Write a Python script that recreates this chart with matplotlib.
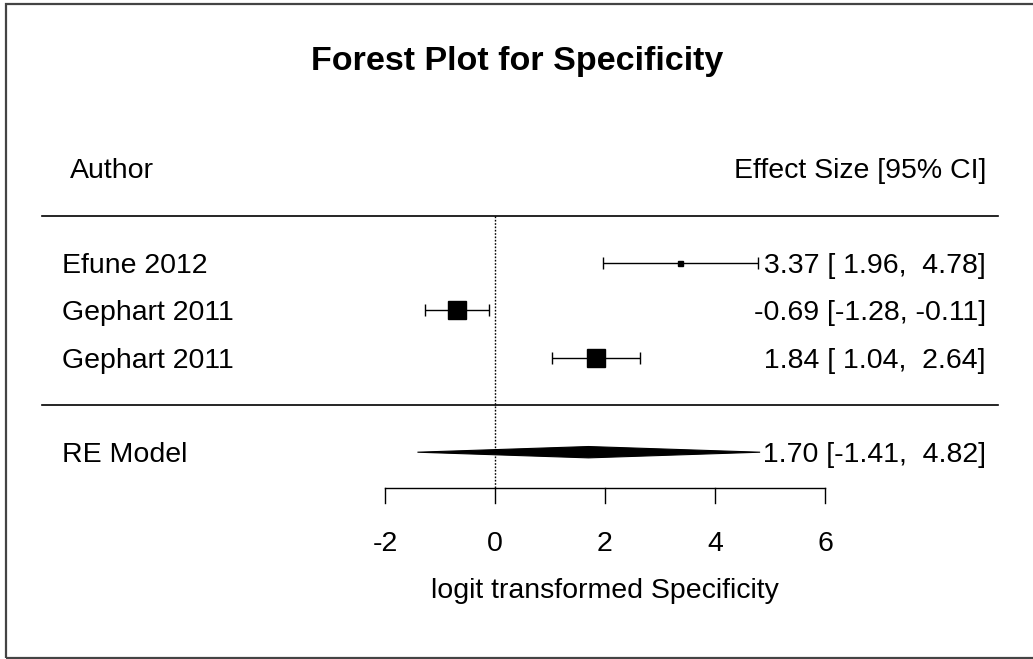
import matplotlib.pyplot as plt
from matplotlib.patches import Rectangle, Polygon

plt.rcParams['font.family'] = ['Liberation Sans', 'DejaVu Sans']

# Study-level data (logit transformed specificity)
authors = ['Efune 2012', 'Gephart 2011', 'Gephart 2011']
est = [3.37, -0.69, 1.84]
lower = [1.96, -1.28, 1.04]
upper = [4.78, -0.11, 2.64]
sq_size = [3.6, 13.5, 13.5]   # weights shown as square size

# Random effects summary
re_label = 'RE Model'
re_est, re_lo, re_hi = 1.70, -1.41, 4.82

xticks = [-2, 0, 2, 4, 6]

# layout (rows counted from the bottom)
rows = [5, 4, 3]
re_row = 1
px_row = 47.3
dy = -3 / px_row   # text nudge down a few pixels

fig = plt.figure(figsize=(10.33, 6.59), dpi=100)
ax = fig.add_axes([0, 0, 1, 1])
ax.set_xlim(-495 / 55, (1033 - 495) / 55)
ax.set_ylim(5 - (659 - 263) / px_row, 5 + 263 / px_row)
ax.axis('off')

# outer frame
fig.patches.append(Rectangle((6 / 1033, 1 - 658 / 659), 1.1, 654 / 659,
                             transform=fig.transFigure, fill=False,
                             edgecolor='#444444', linewidth=1.6))

fs = 20.5
x_left = (62 - 495) / 55
x_right = (986 - 495) / 55
line_l, line_r = (42 - 495) / 55, (998 - 495) / 55

ax.text(517 / 55 - 9, 9.33 + dy, 'Forest Plot for Specificity', ha='center', va='center',
        fontsize=24.5, fontweight='bold')
ax.text((70 - 495) / 55, 7 + dy, 'Author', ha='left', va='center', fontsize=fs)
ax.text(x_right, 7 + dy, 'Effect Size [95% CI]', ha='right', va='center', fontsize=fs)

ax.plot([line_l, line_r], [6, 6], color='black', lw=1.2)
ax.plot([line_l, line_r], [2, 2], color='black', lw=1.2)

axis_y = 5 - 225 / px_row
ax.plot([0, 0], [6, axis_y], color='black', lw=1, linestyle=(0, (1.2, 1.2)))

for r, a, e, lo, hi, s in zip(rows, authors, est, lower, upper, sq_size):
    ax.errorbar([e], [r], xerr=[[e - lo], [hi - e]], fmt='none', ecolor='black',
                elinewidth=1, capsize=4, capthick=1)
    ax.plot([e], [r], marker='s', color='black', markersize=s)
    ax.text(x_left, r + dy, a, ha='left', va='center', fontsize=fs)
    ax.text(x_right, r + dy, f'{e:5.2f} [{lo:5.2f}, {hi:5.2f}]', ha='right', va='center',
            fontsize=fs)

dh = 0.12
ax.add_patch(Polygon([[re_lo, re_row], [re_est, re_row + dh], [re_hi, re_row],
                      [re_est, re_row - dh]], closed=True, color='black', lw=0.8))
ax.text(x_left, re_row + dy, re_label, ha='left', va='center', fontsize=fs)
ax.text(x_right, re_row + dy, f'{re_est:5.2f} [{re_lo:5.2f}, {re_hi:5.2f}]', ha='right',
        va='center', fontsize=fs)

# x axis
tick_len = 15 / px_row
ax.plot([xticks[0], xticks[-1]], [axis_y, axis_y], color='black', lw=1)
for t in xticks:
    ax.plot([t, t], [axis_y, axis_y - tick_len], color='black', lw=1)
    ax.text(t, 5 - 278 / px_row + dy, str(t), ha='center', va='center', fontsize=fs)
ax.text(2, 5 - 325 / px_row + dy, 'logit transformed Specificity', ha='center',
        va='center', fontsize=fs)

fig.savefig('out.png', dpi=100)
